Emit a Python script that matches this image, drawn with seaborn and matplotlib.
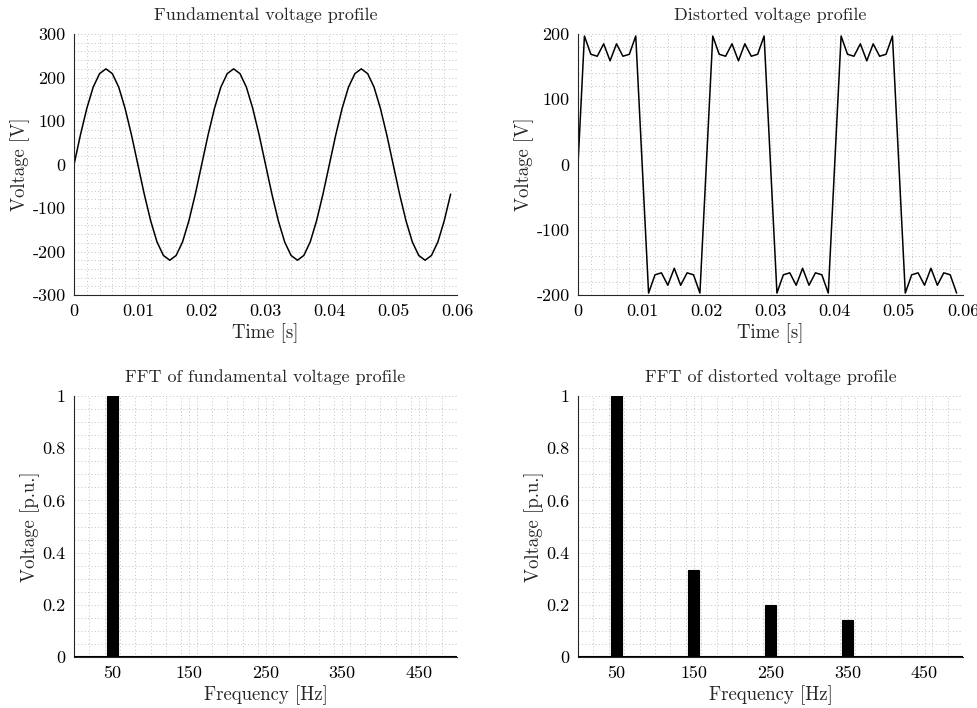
import matplotlib
matplotlib.use("Agg")
import matplotlib.pyplot as plt
import seaborn as sns
from matplotlib.ticker import MultipleLocator

# time samples [ms]
time_ms = [0, 1, 2, 3, 4, 5, 6, 7, 8, 9, 10, 11, 12, 13, 14, 15, 16, 17, 18, 19,
           20, 21, 22, 23, 24, 25, 26, 27, 28, 29, 30, 31, 32, 33, 34, 35, 36, 37, 38, 39,
           40, 41, 42, 43, 44, 45, 46, 47, 48, 49, 50, 51, 52, 53, 54, 55, 56, 57, 58, 59]

v_fund = [0, 68, 129, 178, 209, 220, 209, 178, 129, 68, 0, -68, -129, -178, -209, -220, -209, -178, -129, -68,
          0, 68, 129, 178, 209, 220, 209, 178, 129, 68, 0, -68, -129, -178, -209, -220, -209, -178, -129, -68,
          0, 68, 129, 178, 209, 220, 209, 178, 129, 68, 0, -68, -129, -178, -209, -220, -209, -178, -129, -68]

v_dist = [0, 197, 169, 166, 185, 159, 185, 166, 169, 197, 0, -197, -169, -166, -185, -159, -185, -166, -169, -197,
          0, 197, 169, 166, 185, 159, 185, 166, 169, 197, 0, -197, -169, -166, -185, -159, -185, -166, -169, -197,
          0, 197, 169, 166, 185, 159, 185, 166, 169, 197, 0, -197, -169, -166, -185, -159, -185, -166, -169, -197]

freq = [50, 150, 250, 350, 450]
fft_fund = [1.0, 0.0, 0.0, 0.0, 0.0]
fft_dist = [1.0, 0.333, 0.2, 0.143, 0.0]

sns.set_style("white")
plt.rcParams['font.family'] = 'serif'
plt.rcParams['font.serif'] = ['cmr10', 'DejaVu Serif']
plt.rcParams['axes.unicode_minus'] = False

AX_COL = '#262626'
GRID_COL = '#c2c2c2'


def style(ax, title, xlabel, ylabel):
    ax.set_title(title, fontsize=13, pad=10)
    ax.set_xlabel(xlabel, fontsize=13.5, labelpad=3)
    ax.set_ylabel(ylabel, fontsize=13.5, labelpad=1.5)
    for s in ['top', 'right']:
        ax.spines[s].set_visible(False)
    for s in ['left', 'bottom']:
        ax.spines[s].set_color(AX_COL)
        ax.spines[s].set_linewidth(0.8)
    ax.tick_params(which='major', direction='in', length=4, width=0.7, colors=AX_COL,
                   labelsize=13, labelcolor='black', pad=6)
    ax.tick_params(which='minor', direction='in', length=2, width=0.5, colors=AX_COL)
    ax.grid(which='both', linestyle=(0, (1, 2.5)), color=GRID_COL, linewidth=0.7)
    ax.set_axisbelow(True)


fig = plt.figure(figsize=(9.78, 7.08), dpi=100)
ax1 = fig.add_axes([0.0757, 0.5833, 0.3916, 0.3686])
ax2 = fig.add_axes([0.591, 0.5833, 0.3937, 0.3686])
ax3 = fig.add_axes([0.0757, 0.072, 0.3916, 0.3686])
ax4 = fig.add_axes([0.591, 0.072, 0.3937, 0.3686])

t = [x / 1000 for x in time_ms]

# time domain
sns.lineplot(x=t, y=v_fund, ax=ax1, color='black', linewidth=1.1)
sns.lineplot(x=t, y=v_dist, ax=ax2, color='black', linewidth=1.1)
for ax, lim, ttl in [(ax1, 300, 'Fundamental voltage profile'),
                     (ax2, 200, 'Distorted voltage profile')]:
    ax.set_xlim(0, 0.06)
    ax.set_ylim(-lim, lim)
    ax.xaxis.set_minor_locator(MultipleLocator(0.002))
    ax.yaxis.set_minor_locator(MultipleLocator(20))
    ax.set_xticks([0, 0.01, 0.02, 0.03, 0.04, 0.05, 0.06])
    ax.set_xticklabels(['0', '0.01', '0.02', '0.03', '0.04', '0.05', '0.06'])
    yt = list(range(-lim, lim + 1, 100))
    ax.set_yticks(yt)
    ax.set_yticklabels([str(v) for v in yt])
    style(ax, ttl, 'Time [s]', 'Voltage [V]')

# frequency domain
sns.barplot(x=freq, y=fft_fund, ax=ax3, native_scale=True, color='black', width=0.14,
            saturation=1, edgecolor='black', linewidth=0.8)
sns.barplot(x=freq, y=fft_dist, ax=ax4, native_scale=True, color='black', width=0.14,
            saturation=1, edgecolor='black', linewidth=0.8)
for ax, ttl in [(ax3, 'FFT of fundamental voltage profile'),
                (ax4, 'FFT of distorted voltage profile')]:
    ax.set_xlim(0, 500)
    ax.set_ylim(0, 1)
    ax.set_xticks(freq)
    ax.set_xticklabels([str(f) for f in freq])
    ax.xaxis.set_minor_locator(MultipleLocator(20))
    ax.set_yticks([0, 0.2, 0.4, 0.6, 0.8, 1.0])
    ax.set_yticklabels(['0', '0.2', '0.4', '0.6', '0.8', '1'])
    ax.yaxis.set_minor_locator(MultipleLocator(0.05))
    style(ax, ttl, 'Frequency [Hz]', 'Voltage [p.u.]')
    ax.axhline(0, color='black', linewidth=1.5, zorder=3)

fig.savefig('out.png', dpi=100)
